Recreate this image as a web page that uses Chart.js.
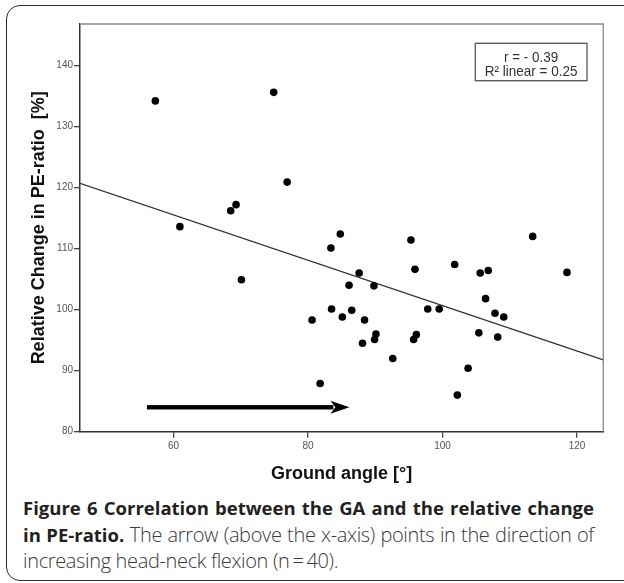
<!DOCTYPE html>
<html>
<head>
<meta charset="utf-8">
<script src="https://cdn.jsdelivr.net/npm/chart.js@4.4.1/dist/chart.umd.min.js"></script>
<style>
  html, body { margin: 0; padding: 0; background: #fff; }
  body { width: 624px; height: 583px; position: relative; overflow: hidden; }
  #frame { position: absolute; left: 6px; top: 5px; width: 700px; height: 576px;
           border: 1.5px solid #2a2a2a; border-radius: 14px; box-sizing: border-box; }
  #wrap { position: absolute; left: 0; top: 0; width: 624px; height: 490px; }
  #caption { position: absolute; left: 23px; top: 495px; width: 620px;
             font-family: "Open Sans", "Noto Sans", sans-serif; font-size: 20px; line-height: 26.7px; color: #3a3a3a; }
  #caption .ln { white-space: nowrap; height: 26.7px; overflow: visible; }
  #caption .ln span.r { font-weight: 300; letter-spacing: -0.35px; }
  #caption b { font-weight: 700; color: #231f20; font-size: 18.5px; }
  #caption .inner { display: inline-block; }
</style>
</head>
<body>
<div id="frame"></div>
<div id="wrap"><canvas id="c" width="624" height="490"></canvas></div>
<div id="caption">
  <div class="ln" data-fit="571"><span class="inner"><b>Figure 6 Correlation between the GA and the relative change</b></span></div>
  <div class="ln" data-fit="571"><span class="inner"><b>in PE-ratio.</b><span class="r"> The arrow (above the x-axis) points in the direction of</span></span></div>
  <div class="ln"><span class="inner"><span class="r">increasing head-neck flexion (n&#8201;=&#8201;40).</span></span></div>
</div>
<script>
// ---- data ----
const xTicks = [60, 80, 100, 120];
const yTicks = [80, 90, 100, 110, 120, 130, 140];
const groundAngle = [57.3, 74.9, 76.9, 60.95, 68.5, 69.3, 70.1, 84.8, 83.4, 95.3,
                     113.4, 87.6, 95.9, 101.8, 105.6, 106.8, 118.5, 86.1, 89.8, 106.4,
                     80.6, 83.5, 85.1, 86.5, 88.4, 88.1, 90.1, 89.9, 92.6, 95.7,
                     96.1, 97.8, 99.5, 81.8, 103.8, 102.2, 105.4, 107.8, 109.1, 108.2];
const peChange    = [134.2, 135.6, 120.9, 113.6, 116.2, 117.2, 104.9, 112.4, 110.1, 111.4,
                     112.0, 106.0, 106.6, 107.4, 106.0, 106.4, 106.1, 104.0, 103.9, 101.8,
                     98.3, 100.1, 98.8, 99.9, 98.3, 94.5, 96.0, 95.1, 92.0, 95.1,
                     95.9, 100.1, 100.1, 87.9, 90.4, 86.0, 96.2, 99.4, 98.8, 95.5];
const fitX = [46.1, 123.9];
const fitY = [120.7, 91.75];
const arrowX = [56.05, 86.15];
const arrowY = [84.0, 84.0];
const statsLines = ['r = - 0.39', 'R\u00b2 linear = 0.25'];
const xRange = [46.1, 123.9];
const yRange = [80, 146.8];
const xTitle = 'Ground angle [\u00b0]';
const yTitle = 'Relative Change in PE-ratio  [%]';

// justify caption lines to the reference width via word spacing
document.querySelectorAll('#caption .ln[data-fit]').forEach(el => {
  const target = parseFloat(el.dataset.fit);
  const inner = el.querySelector('.inner');
  const w = inner.getBoundingClientRect().width;
  const spaces = (inner.textContent.match(/ /g) || []).length;
  if (spaces > 0) inner.style.wordSpacing = ((target - w) / spaces) + 'px';
});

const points = groundAngle.map((x, i) => ({ x: x, y: peChange[i] }));
const fitLine = fitX.map((x, i) => ({ x: x, y: fitY[i] }));

const boxPlugin = {
  id: 'boxAndExtras',
  beforeDatasetsDraw(chart) {
    const { ctx, chartArea: a } = chart;
    ctx.save();
    ctx.strokeStyle = '#8a8a8a';
    ctx.lineWidth = 1.3;
    ctx.beginPath();
    ctx.moveTo(a.left, a.top); ctx.lineTo(a.right, a.top); ctx.lineTo(a.right, a.bottom);
    ctx.stroke();
    ctx.restore();
  },
  afterDatasetsDraw(chart) {
    const { ctx, chartArea: a, scales } = chart;
    // arrow
    const x0 = scales.x.getPixelForValue(arrowX[0]);
    const x1 = scales.x.getPixelForValue(arrowX[1]);
    const y0 = scales.y.getPixelForValue(arrowY[0]);
    ctx.save();
    ctx.fillStyle = '#000';
    ctx.fillRect(x0, y0 - 2.2, (x1 - 16) - x0, 4.4);
    ctx.beginPath();
    ctx.moveTo(x1, y0);
    ctx.lineTo(x1 - 19, y0 - 6.5);
    ctx.lineTo(x1 - 14, y0);
    ctx.lineTo(x1 - 19, y0 + 6.5);
    ctx.closePath();
    ctx.fill();
    ctx.restore();
    // stats box
    const bx = a.right - 128, by = a.top + 19.3, bw = 111.7, bh = 37.4;
    ctx.save();
    ctx.strokeStyle = '#555';
    ctx.lineWidth = 1.3;
    ctx.strokeRect(bx, by, bw, bh);
    ctx.fillStyle = '#333';
    ctx.font = '15px "Liberation Sans", Arial, sans-serif';
    ctx.textAlign = 'center';
    ctx.textBaseline = 'middle';
    const cx = bx + bw / 2;
    statsLines.forEach((t, i) => {
      ctx.save();
      ctx.translate(cx, by + 14.4 + i * 14.6);
      ctx.scale(0.9, 1);
      ctx.fillText(t, 0, 0);
      ctx.restore();
    });
    ctx.restore();
  }
};

new Chart(document.getElementById('c'), {
  type: 'scatter',
  data: {
    datasets: [
      { data: points, backgroundColor: '#000', borderColor: '#000', pointRadius: 3.8, pointBorderWidth: 0 },
      { type: 'line', data: fitLine, borderColor: '#333', borderWidth: 1.3, pointRadius: 0, fill: false }
    ]
  },
  options: {
    responsive: false,
    animation: false,
    devicePixelRatio: 1,
    layout: { padding: { left: 0, right: 20.7, top: 24, bottom: 0 } },
    plugins: { legend: { display: false }, tooltip: { enabled: false } },
    scales: {
      x: {
        type: 'linear', min: xRange[0], max: xRange[1],
        afterBuildTicks: s => { s.ticks = xTicks.map(v => ({ value: v })); },
        afterFit: s => { s.height = 58.3; },
        grid: { drawOnChartArea: false, drawTicks: true, tickLength: 6, color: '#444', lineWidth: 1.3 },
        border: { display: true, color: '#333', width: 1.5 },
        ticks: { color: '#555', padding: 3, font: { family: '"Liberation Sans", Arial, sans-serif', size: 10 } },
        title: { display: true, text: xTitle, color: '#111', padding: { top: 0, bottom: 5 },
                 font: { family: '"Liberation Sans", Arial, sans-serif', size: 18, weight: 'bold' } }
      },
      y: {
        type: 'linear', min: yRange[0], max: yRange[1],
        afterBuildTicks: s => { s.ticks = yTicks.map(v => ({ value: v })); },
        afterFit: s => { s.width = 80; },
        grid: { drawOnChartArea: false, drawTicks: true, tickLength: 6, color: '#444', lineWidth: 1.3 },
        border: { display: true, color: '#333', width: 1.5 },
        ticks: { color: '#555', padding: 1, font: { family: '"Liberation Sans", Arial, sans-serif', size: 10 } },
        title: { display: true, text: yTitle, color: '#111', padding: { top: 28.7, bottom: 0 },
                 font: { family: '"Liberation Sans", Arial, sans-serif', size: 18, weight: 'bold' } }
      }
    }
  },
  plugins: [boxPlugin]
});
</script>
</body>
</html>
